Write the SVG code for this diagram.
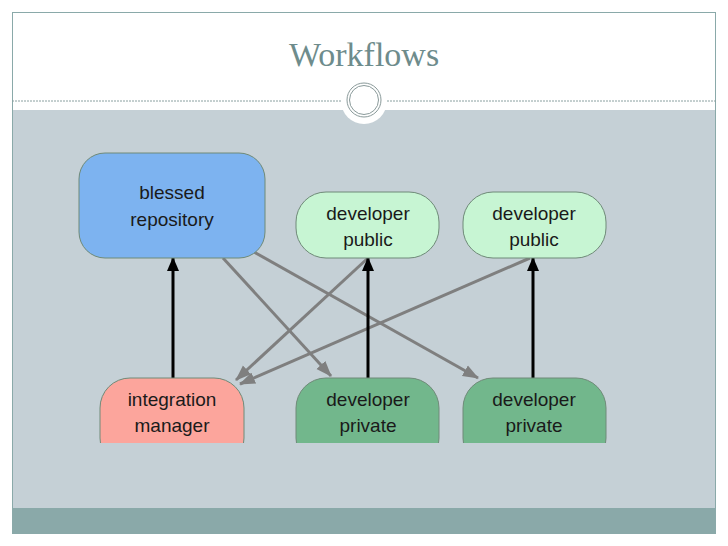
<svg xmlns="http://www.w3.org/2000/svg" width="728" height="546" viewBox="0 0 728 546">
<style>
.lbl{font-family:"Liberation Sans",Arial,sans-serif;font-size:19px;fill:#1a1a1a;text-anchor:middle}
.box{stroke:#6f8a78;stroke-width:1}
.g{stroke:#7f7f7f;stroke-width:3;fill:none}
.k{stroke:#000;stroke-width:3;fill:none}
</style>
<defs>
<marker id="ag" markerWidth="6" markerHeight="6" refX="5" refY="3" orient="auto" markerUnits="userSpaceOnUse" viewBox="0 0 6 6"><path d="M0,0L6,3L0,6z" fill="#7f7f7f"/></marker>
<marker id="ak" markerWidth="14" markerHeight="14" refX="13" refY="7" orient="auto" markerUnits="userSpaceOnUse"><path d="M0,1L14,7L0,13z" fill="#000"/></marker>
<marker id="ag2" markerWidth="16" markerHeight="14" refX="15" refY="7" orient="auto" markerUnits="userSpaceOnUse"><path d="M0,1L16,7L0,13z" fill="#7f7f7f"/></marker>
</defs>
<rect x="0" y="0" width="728" height="546" fill="#fff"/>
<rect x="12" y="110" width="704" height="400" fill="#c5d0d6"/>
<rect x="12" y="508" width="704" height="26" fill="#8aa9a9"/>
<rect x="12.5" y="12.5" width="703" height="521" fill="none" stroke="#8aa9a9" stroke-width="1"/>
<line x1="12" y1="101" x2="716" y2="101" stroke="#8aa0a0" stroke-width="1" stroke-dasharray="2,1"/>
<circle cx="364" cy="101" r="23" fill="#fff"/>
<circle cx="364" cy="100" r="17" fill="none" stroke="#8a9a9a" stroke-width="1"/>
<circle cx="364" cy="100" r="14.5" fill="none" stroke="#8a9a9a" stroke-width="1"/>
<text x="364" y="66" font-family="Liberation Serif,serif" font-size="34" fill="#6e8c8c" text-anchor="middle">Workflows</text>
<g id="connectors">
<line class="g" x1="223" y1="258" x2="331" y2="376" marker-end="url(#ag2)"/>
<line class="g" x1="254" y1="252" x2="478" y2="378" marker-end="url(#ag2)"/>
<line class="g" x1="368" y1="258" x2="236" y2="380" marker-end="url(#ag2)"/>
<line class="g" x1="530" y1="258" x2="240" y2="384" marker-end="url(#ag2)"/>
<line class="k" x1="173" y1="378" x2="173" y2="258" marker-end="url(#ak)"/>
<line class="k" x1="368" y1="378" x2="368" y2="258" marker-end="url(#ak)"/>
<line class="k" x1="533" y1="378" x2="533" y2="258" marker-end="url(#ak)"/>
</g>
<g id="blessed"><rect class="box" x="79" y="153" width="186" height="105" rx="26" fill="#7db3f0" stroke="#6a8fb8"/><text class="lbl" x="172" y="199">blessed</text><text class="lbl" x="172" y="226">repository</text></g>
<g id="pub1"><rect class="box" x="296" y="192" width="143" height="66" rx="30" fill="#c7f5d3"/><text class="lbl" x="368" y="220">developer</text><text class="lbl" x="368" y="246">public</text></g>
<g id="pub2"><rect class="box" x="463" y="192" width="143" height="66" rx="30" fill="#c7f5d3"/><text class="lbl" x="534" y="220">developer</text><text class="lbl" x="534" y="246">public</text></g>
<svg x="0" y="0" width="728" height="443" overflow="hidden">
<g id="integ"><rect class="box" x="100" y="378" width="144" height="90" rx="30" fill="#fca59c" stroke="#b57c76"/><text class="lbl" x="172" y="406">integration</text><text class="lbl" x="172" y="432">manager</text></g>
<g id="priv1"><rect class="box" x="296" y="378" width="143" height="90" rx="30" fill="#72b78c" stroke="#5a8a6c"/><text class="lbl" x="368" y="406">developer</text><text class="lbl" x="368" y="432">private</text></g>
<g id="priv2"><rect class="box" x="463" y="378" width="143" height="90" rx="30" fill="#72b78c" stroke="#5a8a6c"/><text class="lbl" x="534" y="406">developer</text><text class="lbl" x="534" y="432">private</text></g>
</svg>
</svg>
